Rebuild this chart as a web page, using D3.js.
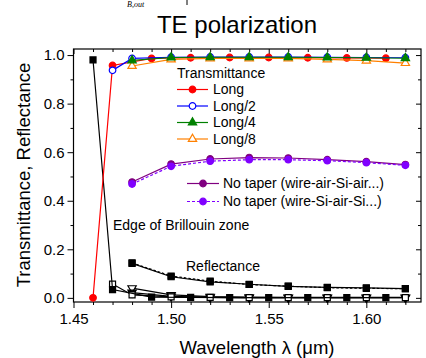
<!DOCTYPE html>
<html><head><meta charset="utf-8">
<script src="https://cdn.jsdelivr.net/npm/d3@7"></script>
<style>
body{margin:0;background:#fff}
svg{display:block}
text{font-family:"Liberation Sans",Arial,Helvetica,sans-serif;fill:#000}
</style>
</head><body>
<svg id="chart" width="426" height="358"></svg>
<script>
// Wavelength grids (µm)
const lamOdd  = [1.46,1.47,1.49,1.51,1.53,1.55,1.57,1.59,1.61];
const lamHalf = [1.47,1.48,1.50,1.52,1.54,1.56,1.58,1.60,1.62];
const lamEven = [1.48,1.50,1.52,1.54,1.56,1.58,1.60,1.62];

// Transmittance
const tLong   = [0.000,0.957,0.986,0.989,0.990,0.990,0.989,0.988,0.987];
const tLong2  = [0.937,0.986,0.991,0.992,0.992,0.992,0.991,0.990,0.989];
const tLong4  = [0.978,0.990,0.991,0.991,0.991,0.990,0.989,0.987];
const tLong8  = [0.955,0.982,0.986,0.986,0.986,0.982,0.977,0.967];
const tAirSi  = [0.477,0.551,0.572,0.578,0.576,0.569,0.561,0.549];
const tSiAir  = [0.469,0.542,0.563,0.569,0.569,0.565,0.557,0.546];

// Reflectance
const rLong   = [0.980,0.034,0.003,0.002,0.001,0.001,0.001,0.001,0.001];
const rLong2  = [0.057,0.012,0.004,0.002,0.001,0.001,0.001,0.001,0.001];
const rLong4  = [0.022,0.006,0.002,0.001,0.001,0.001,0.001,0.001];
const rLong8  = [0.040,0.012,0.005,0.003,0.002,0.002,0.002,0.002];
const rAirSi  = [0.142,0.087,0.066,0.056,0.047,0.043,0.041,0.038];
const rSiAir  = [0.144,0.090,0.069,0.055,0.048,0.042,0.039,0.038];

// Axis ticks
const xMajor = [1.45,1.50,1.55,1.60];
const xMinor = [1.46,1.47,1.48,1.49,1.51,1.52,1.53,1.54,1.56,1.57,1.58,1.59,1.61,1.62];
const yMajor = [0.0,0.2,0.4,0.6,0.8,1.0];
const yMinor = [0.1,0.3,0.5,0.7,0.9];

const titleText = "TE polarization";
const xTitle = "Wavelength \u03bb (\u03bcm)";
const yTitle = "Transmittance, Reflectance";

const svg = d3.select("#chart");
const pL = 73.5, pR = 421, pT = 49, pB = 302;
const x = d3.scaleLinear().domain([1.45,1.628]).range([pL,pR]);
const y = d3.scaleLinear().domain([-0.017,1.025]).range([pB,pT]);

// caption fragment of the panel above
svg.append("text").attr("x",127).attr("y",7)
  .style("font-family","'Liberation Serif','Times New Roman',serif")
  .style("font-style","italic").style("font-size","8px").text("B,out");
svg.append("line").attr("x1",187).attr("x2",187).attr("y1",0).attr("y2",5)
  .attr("stroke","#000").attr("stroke-width",1);

// title
svg.append("text").attr("x",237).attr("y",33).attr("text-anchor","middle")
  .style("font-size","24px").text(titleText);

// axes
function styleAxis(g){
  g.select(".domain").remove();
  g.selectAll("line").attr("stroke","#000").attr("stroke-width",1);
  g.selectAll("text").style("font-size","15px").attr("fill","#000")
    .style("font-family","'Liberation Sans',Arial,sans-serif");
}

svg.append("g").attr("transform",`translate(0,${pB})`)
  .call(d3.axisBottom(x).tickValues(xMajor).tickFormat(d3.format(".2f")).tickSize(6).tickPadding(5)).call(styleAxis);
svg.append("g").attr("transform",`translate(0,${pB})`)
  .call(d3.axisBottom(x).tickValues(xMinor).tickFormat("").tickSize(3)).call(styleAxis);
svg.append("g").attr("transform",`translate(0,${pT})`)
  .call(d3.axisBottom(x).tickValues(xMajor).tickFormat("").tickSize(5)).call(styleAxis);
svg.append("g").attr("transform",`translate(0,${pT})`)
  .call(d3.axisBottom(x).tickValues(xMinor).tickFormat("").tickSize(3)).call(styleAxis);

svg.append("g").attr("transform",`translate(${pL},0)`)
  .call(d3.axisLeft(y).tickValues(yMajor).tickFormat(d3.format(".1f")).tickSize(6).tickPadding(3)).call(styleAxis);
svg.append("g").attr("transform",`translate(${pL},0)`)
  .call(d3.axisLeft(y).tickValues(yMinor).tickFormat("").tickSize(3)).call(styleAxis);
svg.append("g").attr("transform",`translate(${pR},0)`)
  .call(d3.axisLeft(y).tickValues(yMajor).tickFormat("").tickSize(5)).call(styleAxis);
svg.append("g").attr("transform",`translate(${pR},0)`)
  .call(d3.axisLeft(y).tickValues(yMinor).tickFormat("").tickSize(3)).call(styleAxis);

svg.append("rect").attr("x",pL).attr("y",pT).attr("width",pR-pL).attr("height",pB-pT)
  .attr("fill","none").attr("stroke","#000").attr("stroke-width",1.2);

// axis titles
svg.append("text").attr("x",257).attr("y",354).attr("text-anchor","middle")
  .style("font-size","18.5px").text(xTitle);
svg.append("text").attr("transform","translate(30,175) rotate(-90)").attr("text-anchor","middle")
  .style("font-size","18.5px").text(yTitle);

// markers
const shapes = {
  circle: {type:d3.symbolCircle, size:34, rot:0},
  square: {type:d3.symbolSquare, size:36, rot:0},
  up:     {type:d3.symbolTriangle, size:30, rot:0},
  down:   {type:d3.symbolTriangle, size:30, rot:180}
};
function marker(g, cx, cy, s){
  const sh = shapes[s.shape];
  g.append("path").attr("d", d3.symbol().type(sh.type).size(sh.size)())
    .attr("transform",`translate(${cx},${cy}) rotate(${sh.rot})`)
    .attr("fill", s.open ? "#fff" : s.color)
    .attr("stroke", s.color).attr("stroke-width", 1.2);
}

const series = [
  {name:"rAirSi", xs:lamEven, ys:rAirSi, color:"#000", shape:"square"},
  {name:"rSiAir", xs:lamEven, ys:rSiAir, color:"#000", shape:"square", dash:"2.5,2"},
  {name:"rLong8", xs:lamEven, ys:rLong8, color:"#000", shape:"down", open:true},
  {name:"rLong4", xs:lamEven, ys:rLong4, color:"#000", shape:"down"},
  {name:"rLong2", xs:lamHalf, ys:rLong2, color:"#000", shape:"square", open:true},
  {name:"rLong",  xs:lamOdd,  ys:rLong,  color:"#000", shape:"square"},
  {name:"tAirSi", xs:lamEven, ys:tAirSi, color:"#800080", shape:"circle"},
  {name:"tSiAir", xs:lamEven, ys:tSiAir, color:"#8000ff", shape:"circle", dash:"3,2"},
  {name:"tLong",  xs:lamOdd,  ys:tLong,  color:"#ff0000", shape:"circle"},
  {name:"tLong2", xs:lamHalf, ys:tLong2, color:"#0000ff", shape:"circle", open:true},
  {name:"tLong8", xs:lamEven, ys:tLong8, color:"#ff8000", shape:"up", open:true},
  {name:"tLong4", xs:lamEven, ys:tLong4, color:"#008000", shape:"up"}
];

const line = d3.line().x(d=>x(d[0])).y(d=>y(d[1]));
const plot = svg.append("g");
series.forEach(s=>{
  const pts = s.xs.map((v,i)=>[v,s.ys[i]]);
  plot.append("path").attr("d",line(pts)).attr("fill","none")
    .attr("stroke",s.color).attr("stroke-width",1.2)
    .attr("stroke-dasharray",s.dash||null);
  const mg = plot.append("g");
  pts.forEach(p=>marker(mg,x(p[0]),y(p[1]),s));
});

// legends
const byName = Object.fromEntries(series.map(s=>[s.name,s]));
const lg = svg.append("g");
lg.append("text").attr("x",177).attr("y",73).attr("dy","0.35em").style("font-size","14px").text("Transmittance");
const tLegend = [["tLong","Long"],["tLong2","Long/2"],["tLong4","Long/4"],["tLong8","Long/8"]];
tLegend.forEach((e,i)=>{
  const s = byName[e[0]], yy = 89.5 + i*16.5;
  lg.append("line").attr("x1",177).attr("x2",208).attr("y1",yy).attr("y2",yy)
    .attr("stroke",s.color).attr("stroke-width",1.2);
  marker(lg,192.5,yy,s);
  lg.append("text").attr("x",213).attr("y",yy).attr("dy","0.35em").style("font-size","14px").text(e[1]);
});
const nLegend = [["tAirSi","No taper (wire-air-Si-air...)"],["tSiAir","No taper (wire-Si-air-Si...)"]];
nLegend.forEach((e,i)=>{
  const s = byName[e[0]], yy = 183.5 + i*18;
  lg.append("line").attr("x1",187).attr("x2",219).attr("y1",yy).attr("y2",yy)
    .attr("stroke",s.color).attr("stroke-width",1.2).attr("stroke-dasharray",s.dash||null);
  marker(lg,203,yy,s);
  lg.append("text").attr("x",223).attr("y",yy).attr("dy","0.35em").style("font-size","14px").text(e[1]);
});

// annotations
svg.append("text").attr("x",113).attr("y",225).attr("dy","0.35em").style("font-size","14px").text("Edge of Brillouin zone");
svg.append("text").attr("x",186).attr("y",266).attr("dy","0.35em").style("font-size","14px").text("Reflectance");
</script>
</body></html>
